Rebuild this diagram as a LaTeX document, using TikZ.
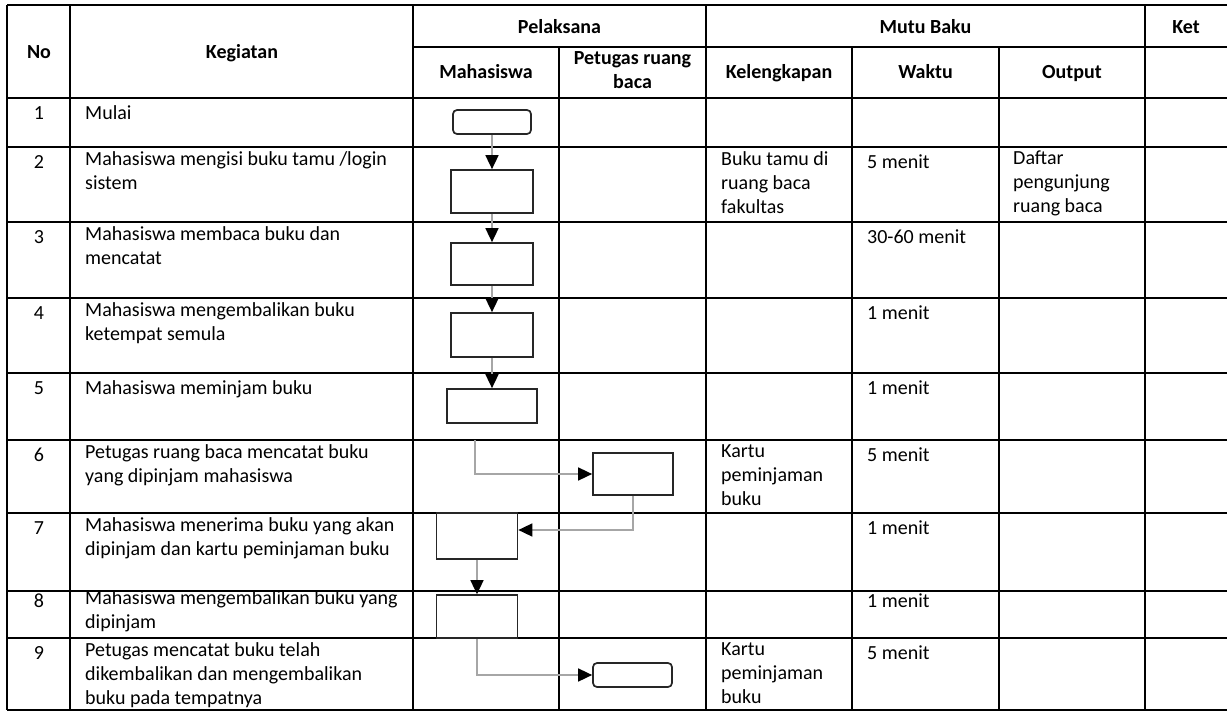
\documentclass[tikz,border=0pt]{standalone}
\usepackage{fontspec}
\setmainfont{Carlito}
\usetikzlibrary{arrows.meta, positioning}
\newcommand{\cellfont}{\fontsize{20}{24}\selectfont}
\tikzstyle{cell} = [anchor=north west, inner sep=0pt, align=left, font=\cellfont, execute at begin node=\strut]
\tikzstyle{head} = [anchor=north, inner sep=0pt, align=center, font=\cellfont\bfseries, execute at begin node=\strut]
\tikzstyle{num} = [anchor=north, inner sep=0pt, font=\cellfont, execute at begin node=\strut]
\tikzstyle{grid} = [line width=1.9pt, black]
\tikzstyle{box} = [rectangle, draw=black!85, line width=1.7pt, fill=white, inner sep=0pt]
\tikzstyle{term} = [box, rounded corners=4pt]
\tikzstyle{arrow} = [draw=gray!70, line width=1.6pt, -{Triangle[length=14pt, width=13pt, color=black]}]

\begin{document}
\begin{tikzpicture}[x=1pt, y=-1pt]

			\fill[white] (0,0) rectangle (1227,712);
			\useasboundingbox (0,0) rectangle (1227,712);

			% table lines
			\draw[grid] (7,5) -- (1227,5);
			\draw[grid] (413,47) -- (1227,47);
			\foreach \y in {98,147,222,298,373,440,513,591,638,710}
				\draw[grid] (7,\y) -- (1227,\y);
			\foreach \x in {7,70,413,706,1145}
				\draw[grid] (\x,5) -- (\x,710);
			\foreach \x in {559,852,999}
				\draw[grid] (\x,47) -- (\x,710);

			% header
			\node[head] (hNo) at (39,41) {No};
			\node[head] (hKeg) at (242,41) {Kegiatan};
			\node[head] (hPel) at (559.5,16) {Pelaksana};
			\node[head] (hMutu) at (925.5,16) {Mutu Baku};
			\node[head] (hKet) at (1186,16) {Ket};
			\node[head] (hMhs) at (486,61) {Mahasiswa};
			\node[head] (hPtg) at (632.5,51) {Petugas ruang\\baca};
			\node[head] (hKel) at (779,61) {Kelengkapan};
			\node[head] (hWkt) at (925.5,61) {Waktu};
			\node[head] (hOut) at (1072,61) {Output};

			% row numbers
			\foreach \n/\t in {1/102,2/151,3/226,4/302,5/377,6/444,7/517,8/590,9/642}
				\node[num] (no\n) at (39,\t) {\n};

			% kegiatan
			\node[cell] (keg1) at (85,102) {Mulai};
			\node[cell] (keg2) at (85,151) {Mahasiswa mengisi buku tamu /login\\sistem};
			\node[cell] (keg3) at (85,226) {Mahasiswa membaca buku dan\\mencatat};
			\node[cell] (keg4) at (85,302) {Mahasiswa mengembalikan buku\\ketempat semula};
			\node[cell] (keg5) at (85,377) {Mahasiswa meminjam buku};
			\node[cell] (keg6) at (85,444) {Petugas ruang baca mencatat buku\\yang dipinjam mahasiswa};
			\node[cell] (keg7) at (85,517) {Mahasiswa menerima buku yang akan\\dipinjam dan kartu peminjaman buku};
			\node[cell] (keg8) at (85,590) {Mahasiswa mengembalikan buku yang\\dipinjam};
			\node[cell] (keg9) at (85,642) {Petugas mencatat buku telah\\dikembalikan dan mengembalikan\\buku pada tempatnya};

			% mutu baku
			\node[cell] (kel2) at (721,151) {Buku tamu di\\ruang baca\\fakultas};
			\node[cell] (kel6) at (721,444) {Kartu\\peminjaman\\buku};
			\node[cell] (kel9) at (721,642) {Kartu\\peminjaman\\buku};
			\node[cell] (wkt2) at (867,151) {5 menit};
			\node[cell] (wkt3) at (867,226) {30-60 menit};
			\node[cell] (wkt4) at (867,302) {1 menit};
			\node[cell] (wkt5) at (867,377) {1 menit};
			\node[cell] (wkt6) at (867,444) {5 menit};
			\node[cell] (wkt7) at (867,517) {1 menit};
			\node[cell] (wkt8) at (867,590) {1 menit};
			\node[cell] (wkt9) at (867,642) {5 menit};
			\node[cell] (out2) at (1013,151) {Daftar\\pengunjung\\ruang baca};

			% flow symbols
			\node[term, minimum width=78pt, minimum height=24pt] (s1) at (492,122) {};
			\node[box, minimum width=82pt, minimum height=43pt] (s2) at (492,191.5) {};
			\node[box, minimum width=82pt, minimum height=42pt] (s3) at (492,264) {};
			\node[box, minimum width=82pt, minimum height=44pt] (s4) at (492,335) {};
			\node[box, minimum width=90pt, minimum height=34pt] (s5) at (492,406) {};
			\node[box, minimum width=80pt, minimum height=42pt] (s6) at (633,474) {};
			\node[box, minimum width=81pt, minimum height=46pt] (s7) at (477,536) {};
			\node[box, minimum width=81pt, minimum height=43pt] (s8) at (477,616.5) {};
			\node[term, minimum width=79pt, minimum height=24pt] (s9) at (632.5,675) {};

			\coordinate (c6) at (475,440);

			\draw[arrow] (s1) -- (s2);
			\draw[arrow] (s2) -- (s3);
			\draw[arrow] (s3) -- (s4);
			\draw[arrow] (s4) -- (s5);
			\draw[arrow] (c6) |- (s6);
			\draw[arrow] (s6.south) |- ([yshift=6pt]s7.east);
			\draw[arrow] (s7) -- (s8);
			\draw[arrow] (s8.south) |- (s9);

		\end{tikzpicture}
\end{document}
